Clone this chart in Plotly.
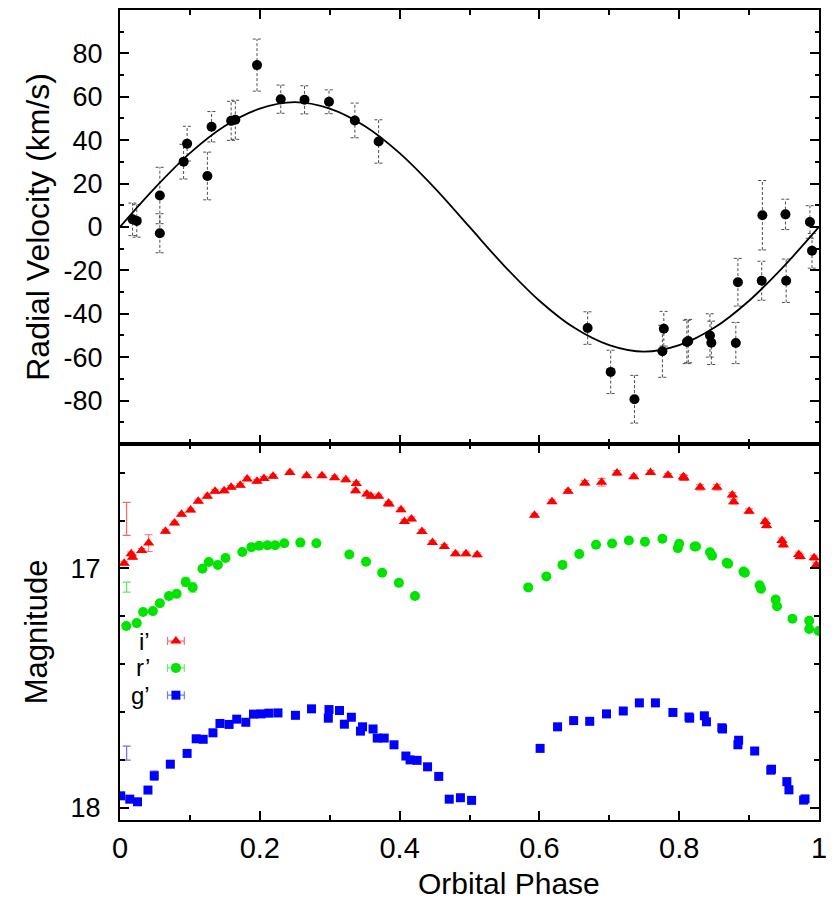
import plotly.graph_objects as go
from plotly.subplots import make_subplots

# --- radial velocity data ---
rv_phase = [0.018, 0.024, 0.057, 0.057, 0.091, 0.096, 0.125, 0.131, 0.159, 0.165, 0.196,
            0.230, 0.264, 0.299, 0.336, 0.370, 0.669, 0.702, 0.736, 0.776, 0.778, 0.811,
            0.813, 0.844, 0.846, 0.881, 0.884, 0.918, 0.919, 0.952, 0.953, 0.987, 0.990]
rv = [3.5, 2.8, 14.5, -2.9, 30.1, 38.4, 23.5, 46.2, 48.9, 49.4, 74.6,
      58.9, 58.6, 57.7, 49.1, 39.4, -46.6, -66.8, -79.4, -57.3, -46.9, -53.0,
      -52.6, -50.0, -53.4, -53.5, -25.5, -24.8, 5.4, 5.8, -24.8, 2.3, -11.0]
rv_err = [7.5, 7.5, 13, 9, 8, 8, 11, 7, 9, 9, 12,
          6.5, 6.5, 5.5, 8, 10, 7.5, 10, 11, 12, 8, 10,
          10, 10, 10, 9.5, 11, 9, 16, 7, 10, 7.5, 8]

# fitted curve
fit_phase = [0.0, 0.05, 0.1, 0.15, 0.2, 0.25, 0.3, 0.35, 0.4, 0.45, 0.5,
             0.55, 0.6, 0.65, 0.7, 0.75, 0.8, 0.85, 0.9, 0.95, 1.0]
fit_rv = [0, 18, 34, 46.5, 54.5, 57.5, 54.5, 46.5, 34, 18, 0,
          -18, -34, -46.5, -54.5, -57.5, -54.5, -46.5, -34, -18, 0]

# --- light curves ---
i_phase = [0.006, 0.016, 0.018, 0.031, 0.041, 0.065, 0.078, 0.088, 0.101, 0.112, 0.125, 0.136,
           0.149, 0.159, 0.172, 0.182, 0.196, 0.206, 0.219, 0.243, 0.267, 0.289, 0.307, 0.323,
           0.338, 0.337, 0.353, 0.359, 0.370, 0.384, 0.385, 0.402, 0.407, 0.417, 0.432, 0.447,
           0.464, 0.480, 0.495, 0.511,
           0.593, 0.618, 0.641, 0.665, 0.689, 0.711, 0.735, 0.759, 0.784, 0.806, 0.807, 0.830,
           0.854, 0.876, 0.878, 0.900, 0.923, 0.925, 0.947, 0.949, 0.971, 0.973, 0.993, 0.996]
i_mag = [16.978, 16.939, 16.953, 16.925, 16.894, 16.845, 16.810, 16.774, 16.756, 16.719, 16.698, 16.678,
         16.676, 16.661, 16.653, 16.626, 16.636, 16.624, 16.615, 16.599, 16.613, 16.613, 16.621, 16.630,
         16.645, 16.676, 16.689, 16.698, 16.698, 16.728, 16.731, 16.755, 16.804, 16.793, 16.846, 16.892,
         16.908, 16.939, 16.939, 16.943,
         16.778, 16.721, 16.678, 16.643, 16.640, 16.601, 16.617, 16.599, 16.611, 16.617, 16.622, 16.661,
         16.661, 16.693, 16.721, 16.761, 16.804, 16.821, 16.883, 16.901, 16.942, 16.950, 16.955, 16.985]
i_err = [0.008, 0.008, 0.008, 0.008, 0.035, 0.008, 0.008, 0.008, 0.008, 0.008, 0.008, 0.008,
         0.008, 0.008, 0.008, 0.008, 0.008, 0.008, 0.008, 0.006, 0.006, 0.006, 0.008, 0.008,
         0.008, 0.008, 0.008, 0.008, 0.008, 0.008, 0.008, 0.008, 0.008, 0.008, 0.008, 0.008,
         0.008, 0.008, 0.008, 0.008,
         0.008, 0.008, 0.008, 0.010, 0.016, 0.010, 0.008, 0.008, 0.008, 0.010, 0.010, 0.012,
         0.012, 0.010, 0.010, 0.010, 0.010, 0.010, 0.010, 0.010, 0.010, 0.010, 0.010, 0.010]

r_phase = [0.009, 0.024, 0.033, 0.047, 0.057, 0.070, 0.081, 0.094, 0.104, 0.118, 0.127, 0.140,
           0.151, 0.175, 0.188, 0.199, 0.211, 0.222, 0.235, 0.258, 0.281, 0.328, 0.352, 0.375,
           0.399, 0.422,
           0.584, 0.610, 0.633, 0.657, 0.681, 0.704, 0.728, 0.751, 0.776, 0.800, 0.798, 0.822,
           0.824, 0.844, 0.847, 0.868, 0.870, 0.892, 0.894, 0.915, 0.917, 0.938, 0.940, 0.962,
           0.986, 0.986, 0.9995]
r_mag = [17.240, 17.228, 17.182, 17.178, 17.145, 17.115, 17.106, 17.056, 17.079, 17.001, 16.973, 16.985,
         16.956, 16.931, 16.911, 16.905, 16.903, 16.903, 16.895, 16.892, 16.895, 16.942, 16.972, 17.018,
         17.060, 17.115,
         17.079, 17.033, 16.985, 16.940, 16.901, 16.896, 16.883, 16.888, 16.876, 16.897, 16.915, 16.908,
         16.908, 16.932, 16.947, 16.976, 16.980, 17.013, 17.018, 17.070, 17.085, 17.130, 17.158, 17.210,
         17.218, 17.253, 17.261]
r_err = [0.005, 0.005, 0.005, 0.005, 0.005, 0.005, 0.005, 0.020, 0.020, 0.005, 0.005, 0.005,
         0.005, 0.005, 0.005, 0.005, 0.005, 0.005, 0.005, 0.005, 0.005, 0.005, 0.005, 0.005,
         0.005, 0.005,
         0.005, 0.005, 0.005, 0.005, 0.005, 0.005, 0.005, 0.005, 0.005, 0.005, 0.005, 0.005,
         0.005, 0.006, 0.006, 0.006, 0.006, 0.006, 0.006, 0.006, 0.006, 0.006, 0.006, 0.006,
         0.006, 0.006, 0.006]

g_phase = [0.001, 0.014, 0.025, 0.040, 0.049, 0.072, 0.096, 0.109, 0.119, 0.133, 0.143, 0.156,
           0.167, 0.180, 0.191, 0.202, 0.213, 0.226, 0.251, 0.274, 0.299, 0.298, 0.314, 0.321,
           0.331, 0.344, 0.347, 0.362, 0.368, 0.378, 0.392, 0.409, 0.415, 0.425, 0.440, 0.456,
           0.471, 0.487, 0.503,
           0.601, 0.626, 0.649, 0.672, 0.696, 0.720, 0.743, 0.766, 0.791, 0.814, 0.815, 0.836,
           0.839, 0.861, 0.862, 0.885, 0.884, 0.908, 0.931, 0.932, 0.954, 0.957, 0.978, 0.980]
g_mag = [17.949, 17.963, 17.974, 17.925, 17.865, 17.817, 17.772, 17.711, 17.713, 17.686, 17.647, 17.651,
         17.629, 17.642, 17.608, 17.607, 17.604, 17.603, 17.613, 17.586, 17.589, 17.625, 17.593, 17.650,
         17.621, 17.679, 17.661, 17.670, 17.708, 17.708, 17.736, 17.783, 17.799, 17.801, 17.828, 17.868,
         17.963, 17.957, 17.968,
         17.751, 17.661, 17.635, 17.638, 17.607, 17.595, 17.561, 17.561, 17.601, 17.620, 17.625, 17.615,
         17.640, 17.665, 17.670, 17.717, 17.736, 17.762, 17.842, 17.838, 17.890, 17.924, 17.967, 17.962]
g_err = [0.008, 0.008, 0.008, 0.008, 0.020, 0.008, 0.008, 0.008, 0.008, 0.008, 0.008, 0.008,
         0.008, 0.008, 0.008, 0.008, 0.008, 0.008, 0.008, 0.008, 0.008, 0.008, 0.008, 0.008,
         0.008, 0.008, 0.008, 0.008, 0.008, 0.008, 0.008, 0.008, 0.008, 0.008, 0.008, 0.008,
         0.008, 0.008, 0.008,
         0.008, 0.008, 0.008, 0.008, 0.008, 0.008, 0.008, 0.008, 0.008, 0.010, 0.010, 0.010,
         0.010, 0.010, 0.010, 0.012, 0.012, 0.010, 0.014, 0.014, 0.016, 0.016, 0.014, 0.014]

# unmarked large error bars at the left edge
big_phase = [0.0095, 0.0095, 0.0095]
big_mag = [16.793, 17.078, 17.771]
big_err = [0.069, 0.021, 0.029]

bands = ["i’", "r’", "g’"]
legend_mag = [17.303, 17.415, 17.529]

rv_ticks = [-80, -60, -40, -20, 0, 20, 40, 60, 80]
mag_ticks = [17, 18]
phase_ticks = [0, 0.2, 0.4, 0.6, 0.8, 1]

RED, GREEN, BLUE = "#ff0000", "#00e400", "#0000ff"
FONT = "Liberation Sans, Arial, sans-serif"

fig = make_subplots(rows=2, cols=1, shared_xaxes=True, vertical_spacing=0,
                    row_heights=[0.5357, 0.4643])

# dashed error bars for the radial velocities
cap = 0.006
ex, ey = [], []
for p, v, e in zip(rv_phase, rv, rv_err):
    ex += [p, p, None, p - cap, p + cap, None, p - cap, p + cap, None]
    ey += [v - e, v + e, None, v + e, v + e, None, v - e, v - e, None]
fig.add_trace(go.Scatter(x=ex, y=ey, mode="lines",
                         line=dict(color="#222", width=0.8, dash="3px,2px")), row=1, col=1)
fig.add_trace(go.Scatter(x=fit_phase, y=fit_rv, mode="lines", line_shape="spline",
                         line=dict(color="black", width=1.8)), row=1, col=1)
fig.add_trace(go.Scatter(x=rv_phase, y=rv, mode="markers",
                         marker=dict(color="black", size=10)), row=1, col=1)

# light curves
series = [
    (i_phase, i_mag, i_err, RED, "triangle-up", 10, "rgba(255,60,60,0.75)"),
    (r_phase, r_mag, r_err, GREEN, "circle", 10, "rgba(60,220,60,0.7)"),
    (g_phase, g_mag, g_err, BLUE, "square", 9, "rgba(60,60,255,0.7)"),
]
for ph, mg, er, col, sym, sz, ecol in series:
    fig.add_trace(go.Scatter(
        x=ph, y=mg, mode="markers",
        marker=dict(color=col, symbol=sym, size=sz),
        error_y=dict(type="data", array=er, color=ecol, thickness=1, width=4),
    ), row=2, col=1)

big_cols = ["rgba(240,90,90,0.9)", "rgba(60,220,60,0.8)", "rgba(70,70,255,0.8)"]
for k in range(3):
    fig.add_trace(go.Scatter(
        x=[big_phase[k]], y=[big_mag[k]], mode="markers",
        marker=dict(size=1, opacity=0),
        error_y=dict(type="data", array=[big_err[k]], color=big_cols[k], thickness=1.2, width=4),
    ), row=2, col=1)

# legend built inside the lower panel
for k, (ph, mg, er, col, sym, sz, ecol) in enumerate(series):
    fig.add_trace(go.Scatter(
        x=[0.080], y=[legend_mag[k]], mode="markers",
        marker=dict(color=col, symbol=sym, size=sz),
        error_x=dict(type="constant", value=0.012, color=ecol, thickness=1.2, width=4),
    ), row=2, col=1)
    fig.add_annotation(x=0.046, y=legend_mag[k], xref="x2", yref="y2", text=bands[k],
                       showarrow=False, xanchor="right", yanchor="middle",
                       font=dict(size=24, color="black", family=FONT))

axis_common = dict(showline=True, linecolor="black", linewidth=2.2, mirror="allticks",
                   ticks="inside", tickcolor="black", tickwidth=1.5, showgrid=False,
                   zeroline=False)

fig.update_xaxes(range=[0, 1], tickvals=phase_ticks, ticklen=9,
                 minor=dict(dtick=0.1, tick0=0, ticklen=5, ticks="inside", tickcolor="black"),
                 **axis_common)
fig.update_xaxes(showticklabels=False, row=1, col=1)
fig.update_xaxes(ticktext=["0", "0.2", "0.4", "0.6", "0.8", "1"], tickfont=dict(size=29),
                 ticklabelstandoff=1, row=2, col=1)

fig.update_yaxes(range=[-100, 100], tickvals=rv_ticks, ticktext=[str(t) for t in rv_ticks],
                 ticklen=9, tickfont=dict(size=27), ticklabelstandoff=10,
                 minor=dict(tickmode="linear", dtick=10, tick0=0, ticklen=4, ticks="inside",
                            tickcolor="black"),
                 title=dict(text="Radial Velocity (km/s)", font=dict(size=32), standoff=4),
                 row=1, col=1, **axis_common)
fig.update_yaxes(range=[18.05, 16.48], tickvals=mag_ticks, ticktext=[str(t) for t in mag_ticks],
                 ticklen=9, tickfont=dict(size=27), ticklabelstandoff=12,
                 minor=dict(tickmode="linear", dtick=0.2, tick0=17, ticklen=5, ticks="inside",
                            tickcolor="black"),
                 title=dict(text="Magnitude", font=dict(size=31), standoff=14),
                 row=2, col=1, **axis_common)

fig.add_annotation(x=0.556, y=-0.078, xref="paper", yref="paper", text="Orbital Phase",
                   showarrow=False, xanchor="center", yanchor="middle",
                   font=dict(size=30, color="black", family=FONT))

# page body adds an 8 px offset, so the figure is trimmed to keep the plot area in place
fig.update_layout(
    width=831, height=902,
    margin=dict(l=112, r=20, t=0, b=90),
    paper_bgcolor="white", plot_bgcolor="white",
    font=dict(family=FONT, color="black"),
    showlegend=False,
)

fig.write_html("out.html")
